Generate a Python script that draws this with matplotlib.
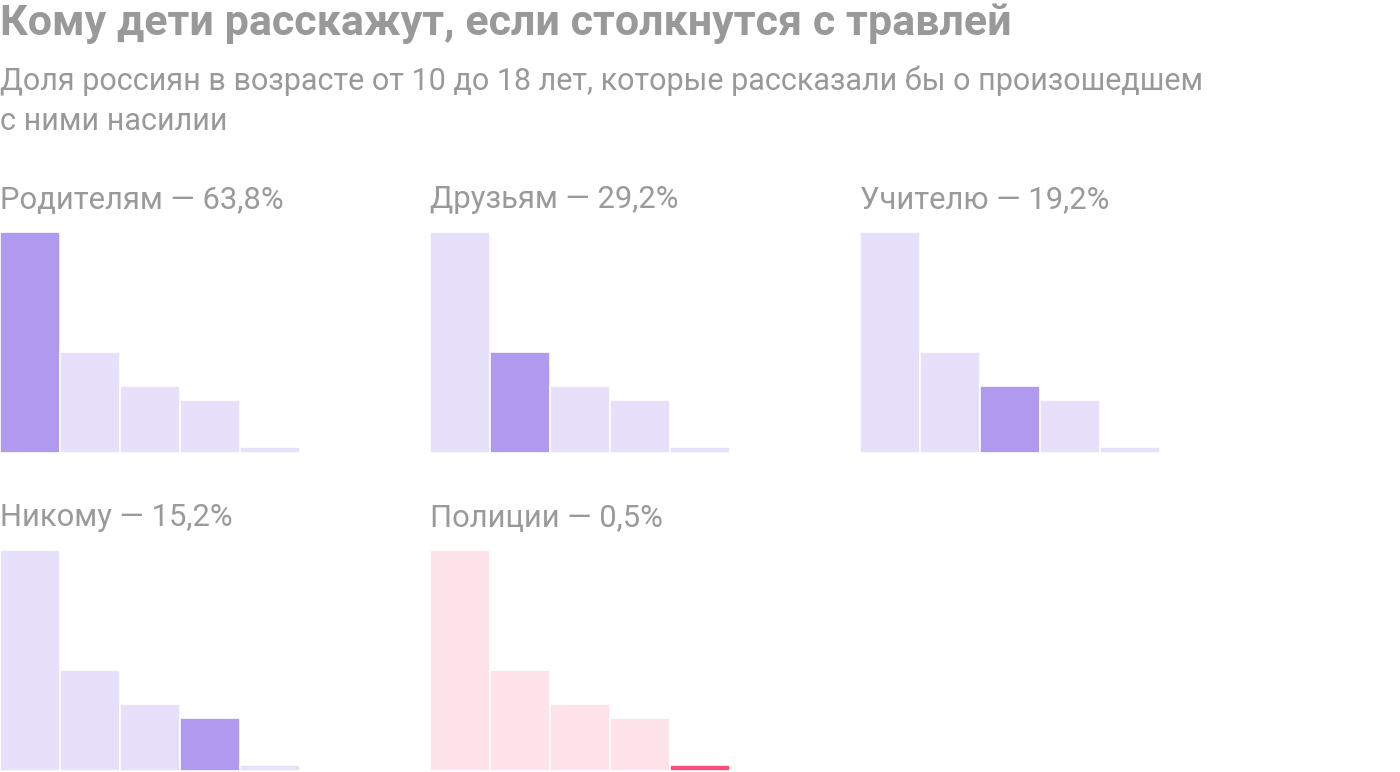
import numpy as np
import matplotlib.pyplot as plt

plt.rcParams['font.family'] = ['Roboto', 'DejaVu Sans']

title = "Кому дети расскажут, если столкнутся с травлей"
subtitle = "Доля россиян в возрасте от 10 до 18 лет, которые рассказали бы о произошедшем\nс ними насилии"

categories = ["Родителям", "Друзьям", "Учителю", "Никому", "Полиции"]
values = [63.8, 29.2, 19.2, 15.2, 0.5]
labels = ["63,8%", "29,2%", "19,2%", "15,2%", "0,5%"]

W, H = 1400, 772
fig = plt.figure(figsize=(W / 100, H / 100), dpi=100)

fig.text(0 / W, 1 - 24 / H, title, fontsize=31, fontweight='bold', color='#999999',
         ha='left', va='center')
fig.text(0 / W, 1 - 101 / H, subtitle, fontsize=22, color='#999999',
         ha='left', va='center', linespacing=1.5)

# panel origins in pixels (left, top of bars)
origins = [(0, 232), (430, 232), (860, 232), (0, 550), (430, 550)]
pw, ph = 300, 221
min_show = 1.8  # tiny values still visible

x = np.arange(len(values))
for i, (cat, lab) in enumerate(zip(categories, labels)):
    left, top = origins[i]
    ax = fig.add_axes([left / W, 1 - (top + ph) / H, pw / W, ph / H])
    if cat == "Полиции":
        base, hi = '#fee3ea', '#fe4f7b'
    else:
        base, hi = '#e6e0fb', '#b09af0'
    colors = [hi if j == i else base for j in range(len(values))]
    heights = [max(v, min_show) for v in values]
    ax.bar(x, heights, width=1.0, color=colors, edgecolor='white', linewidth=1.2)
    ax.set_xlim(-0.5, len(values) - 0.5)
    ax.set_ylim(0, max(values))
    ax.axis('off')
    fig.text(left / W, 1 - (top - 32) / H, f"{cat} — {lab}", fontsize=22.3,
             color='#9a9a9a', ha='left', va='center')

fig.savefig('out.png', dpi=100)
